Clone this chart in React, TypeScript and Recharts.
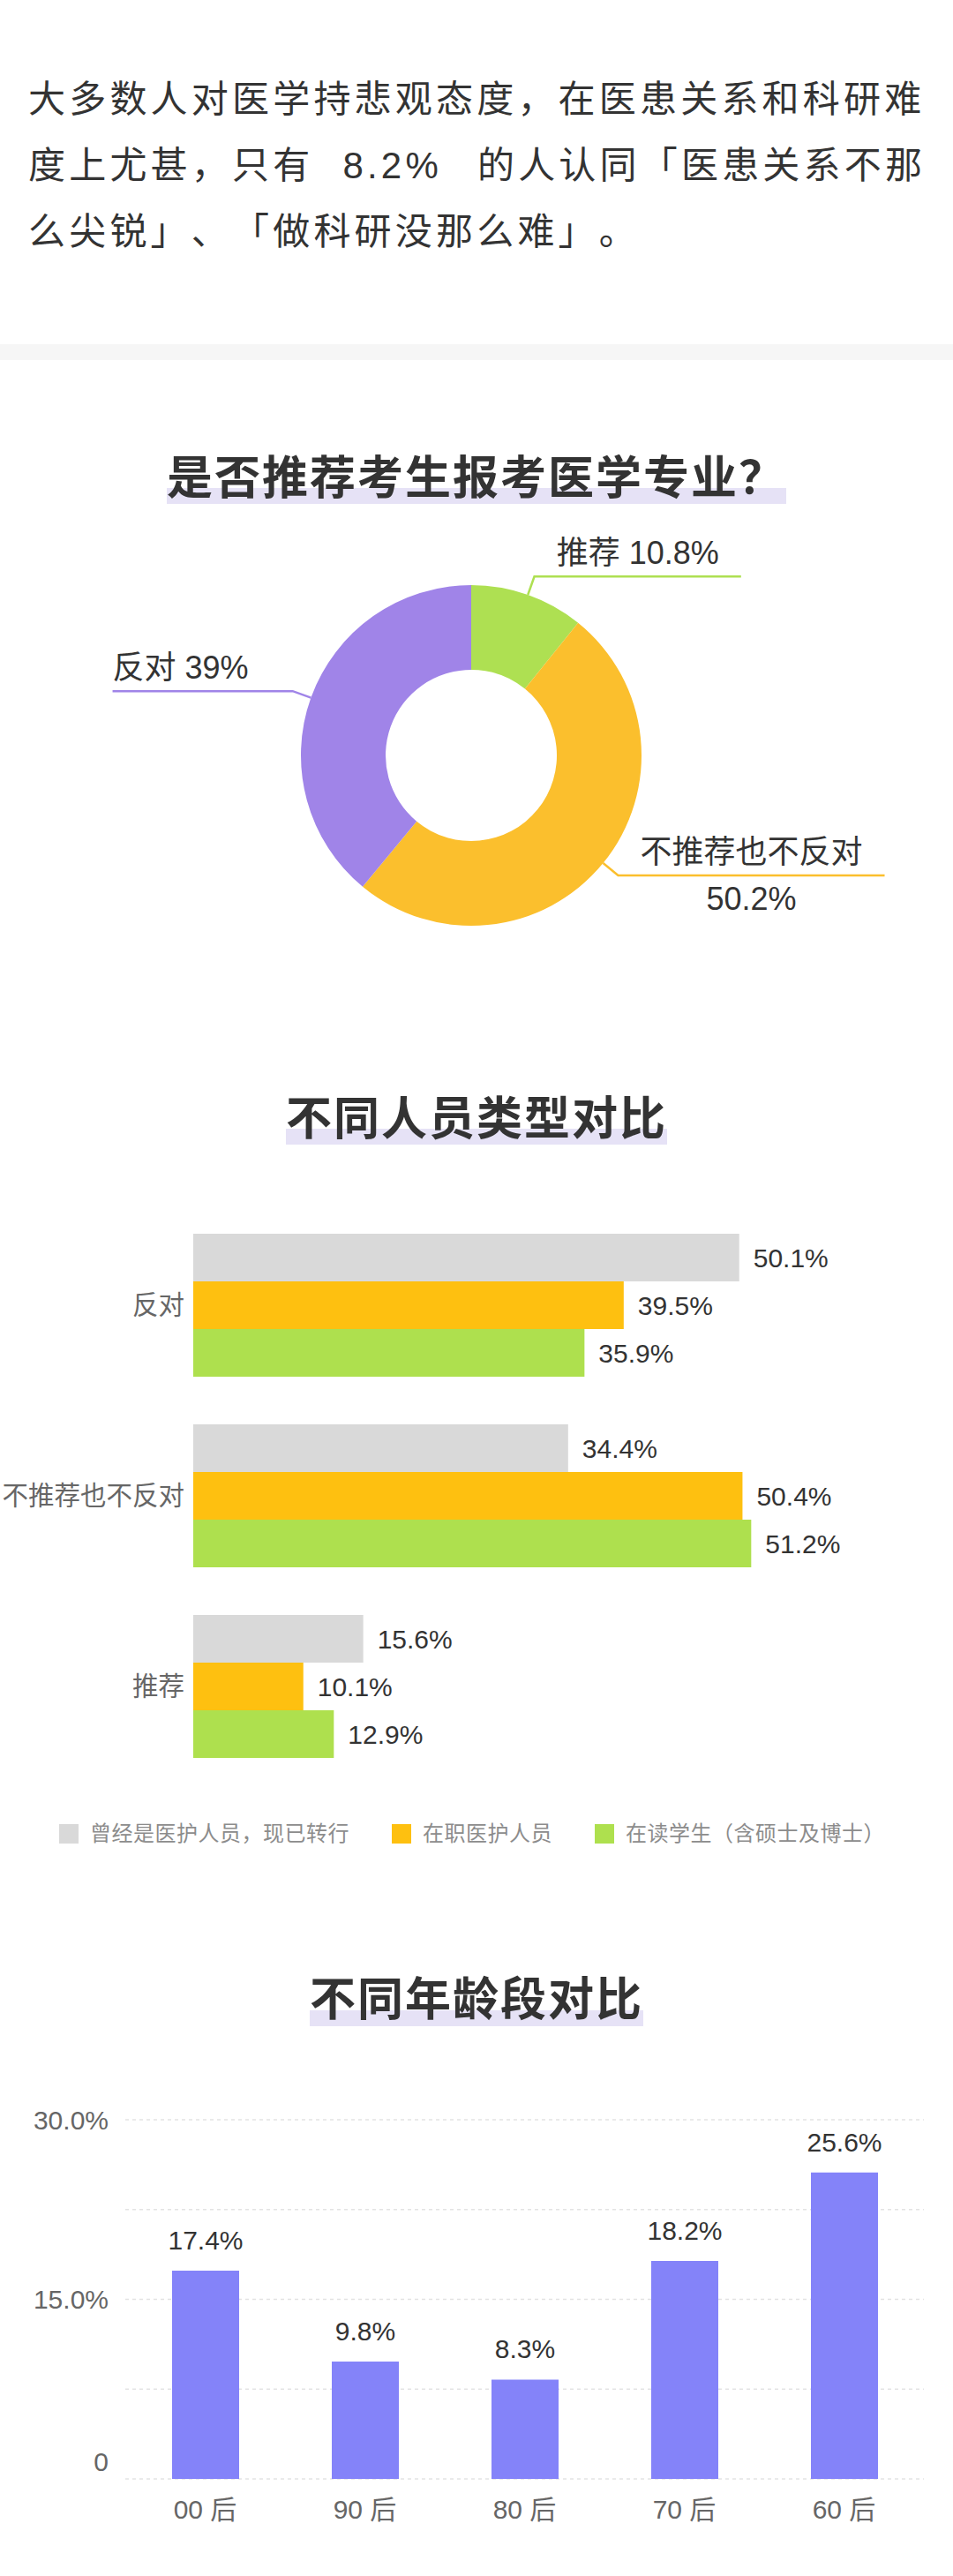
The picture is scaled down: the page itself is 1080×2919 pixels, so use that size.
import React from 'react'
import {
    PieChart, Pie, Cell,
    BarChart, Bar, XAxis, YAxis, CartesianGrid, LabelList,
} from 'recharts'

// --- data -------------------------------------------------------------
const pieNames  = ['推荐', '不推荐也不反对', '反对']
const pieValues = [10.8, 50.2, 39]

const roleCategories = ['反对', '不推荐也不反对', '推荐']
const roleSeries     = ['曾经是医护人员，现已转行', '在职医护人员', '在读学生（含硕士及博士）']
const formerStaff    = [50.1, 34.4, 15.6]
const currentStaff   = [39.5, 50.4, 10.1]
const students       = [35.9, 51.2, 12.9]

const ageGroups = ['00 后', '90 后', '80 后', '70 后', '60 后']
const ageValues = [17.4, 9.8, 8.3, 18.2, 25.6]
const ageTicks  = [0, 7.5, 15, 22.5, 30]

// --- styles -----------------------------------------------------------
const PIE_COLORS  = ['#AEE052', '#FBBF2D', '#A084E8']
const ROLE_COLORS = ['#D9D9D9', '#FEC010', '#AEE04E']
const AGE_COLOR   = '#8483F9'
const FONT        = '"Liberation Sans", "Noto Sans CJK SC", sans-serif'
const CJK_FONT    = '"Noto Sans CJK SC", sans-serif'
const TEXT        = '#333333'
const AXIS_TEXT   = '#666666'
const RADIAN      = Math.PI / 180

const pieData  = pieNames.map((name, i) => ({ name, value: pieValues[i] }))
const roleData = roleCategories.map((name, i) => ({
    name,
    former:  formerStaff[i],
    current: currentStaff[i],
    student: students[i],
}))
const ageData = ageGroups.map((name, i) => ({ name, value: ageValues[i] }))

// rough text width, good enough to size the label leader lines
function textWidth(s: string, size: number) {
    let w = 0
    for (const ch of s) {
        const c = ch.charCodeAt(0)
        if (c > 0x2e80) w += 1
        else if (ch === '%') w += 0.89
        else if (ch === '.' || ch === ' ') w += 0.28
        else w += 0.556
    }
    return w * size
}

function renderPieLabel(props: any) {
    const { cx, cy, midAngle, outerRadius, index } = props
    const name  = pieNames[index]
    const value = pieValues[index]
    const color = PIE_COLORS[index]
    const cos = Math.cos(-midAngle * RADIAN)
    const sin = Math.sin(-midAngle * RADIAN)
    const x0 = cx + outerRadius * cos
    const y0 = cy + outerRadius * sin
    const x1 = cx + (outerRadius + 22) * cos
    const y1 = cy + (outerRadius + 22) * sin
    const right   = cos >= 0
    const twoLine = name.length > 4
    const main    = twoLine ? name : `${name} ${value}%`
    const len     = textWidth(main, 36) + 50
    const x2      = right ? x1 + len : x1 - len
    const tx      = right ? (x1 + x2) / 2 : x2
    const anchor  = right ? 'middle' : 'start'

    return (
        <g>
            <polyline
                points={`${x0},${y0} ${x1},${y1} ${x2},${y1}`}
                fill="none" stroke={color} strokeWidth={2.5}
            />
            <text x={tx} y={y1 - 14} textAnchor={anchor} fontSize={36} fill={TEXT}>{main}</text>
            {twoLine && (
                <text x={tx} y={y1 + 39} textAnchor={anchor} fontSize={36} fill={TEXT}>{value}%</text>
            )}
        </g>
    )
}

function AgeTick({ x, y, payload }: any) {
    const v = payload.value
    const label = v === 0 ? '0' : v % 15 === 0 ? `${v.toFixed(1)}%` : ''
    return (
        <text x={x} y={v === 0 ? y - 20 : y} dy="0.355em" textAnchor="end" fontSize={30} fill={AXIS_TEXT}>
            {label}
        </text>
    )
}

function Title({ text, top }: { text: string; top: number }) {
    return (
        <div style={{ position: 'absolute', top, left: 0, width: 1080, textAlign: 'center' }}>
            <span style={{
                position: 'relative', display: 'inline-block',
                fontFamily: CJK_FONT, fontWeight: 700, fontSize: 52,
                lineHeight: '52px', letterSpacing: 2, color: TEXT,
            }}>
                <span style={{
                    position: 'absolute', left: 0, right: 0, top: 41.5, height: 18,
                    background: '#E6E2F6',
                }} />
                <span style={{ position: 'relative' }}>{text}</span>
            </span>
        </div>
    )
}

export default function App() {
    const para = {
        position: 'absolute' as const, left: 32, fontFamily: FONT,
        fontSize: 42, lineHeight: '75px', letterSpacing: 4.2,
        color: TEXT, whiteSpace: 'nowrap' as const,
    }

    return (
        <div style={{ position: 'relative', width: 1080, height: 2919, background: '#fff', overflow: 'hidden' }}>
            <style>{'body{margin:0} *{text-spacing-trim:space-all}'}</style>

            {/* intro paragraph */}
            <div style={{ ...para, top: 75 }}>大多数人对医学持悲观态度，在医患关系和科研难</div>
            <div style={{ ...para, top: 150 }}>
                度上尤甚，只有<span style={{ marginLeft: 33 }}>8.2%</span>
                <span style={{ marginLeft: 40 }}>的人认同「医患关系不那</span>
            </div>
            <div style={{ ...para, top: 225 }}>么尖锐」、「做科研没那么难」。</div>

            <div style={{ position: 'absolute', top: 390, left: 0, width: 1080, height: 18, background: '#F6F6F6' }} />

            {/* donut */}
            <Title text="是否推荐考生报考医学专业？" top={511.5} />
            <div style={{ position: 'absolute', top: 600, left: 0, fontFamily: FONT }}>
                <PieChart width={1080} height={520}>
                    <Pie
                        data={pieData} dataKey="value" nameKey="name"
                        cx={529} cy={251} innerRadius={97} outerRadius={193}
                        startAngle={90} endAngle={-270}
                        stroke="none" label={renderPieLabel} labelLine={false}
                        isAnimationActive={false}
                    >
                        {pieData.map((_, i) => <Cell key={i} fill={PIE_COLORS[i]} />)}
                    </Pie>
                </PieChart>
            </div>

            {/* role comparison */}
            <Title text="不同人员类型对比" top={1237.5} />
            <div style={{ position: 'absolute', top: 1340, left: 0, fontFamily: FONT }}>
                <BarChart
                    width={1080} height={700} data={roleData} layout="vertical"
                    margin={{ top: 31, right: 120, bottom: 21, left: 0 }}
                    barGap={0} barSize={54}
                >
                    <XAxis type="number" domain={[0, 60]} hide />
                    <YAxis
                        type="category" dataKey="name" width={219}
                        axisLine={false} tickLine={false} tickMargin={4}
                        tick={{ fontSize: 29.5, fill: AXIS_TEXT }}
                    />
                    {(['former', 'current', 'student'] as const).map((key, i) => (
                        <Bar key={key} dataKey={key} name={roleSeries[i]} fill={ROLE_COLORS[i]} isAnimationActive={false}>
                            <LabelList
                                dataKey={key} position="right" offset={16}
                                fontSize={30} fill={TEXT}
                                formatter={(v: number) => `${v}%`}
                            />
                        </Bar>
                    ))}
                </BarChart>
            </div>

            {/* legend */}
            <div style={{
                position: 'absolute', top: 2067, left: 67, height: 22,
                display: 'flex', alignItems: 'center', fontFamily: FONT,
            }}>
                {roleSeries.map((s, i) => (
                    <div key={s} style={{ display: 'flex', alignItems: 'center', marginLeft: i ? 48 : 0 }}>
                        <span style={{ width: 22, height: 22, background: ROLE_COLORS[i], display: 'inline-block' }} />
                        <span style={{ marginLeft: 13, fontSize: 24, letterSpacing: 0.5, color: '#8C8C8C', lineHeight: '22px' }}>
                            {s}
                        </span>
                    </div>
                ))}
            </div>

            {/* age comparison */}
            <Title text="不同年龄段对比" top={2236} />
            <div style={{ position: 'absolute', top: 2360, left: 0, fontFamily: FONT }}>
                <BarChart
                    width={1080} height={520} data={ageData}
                    margin={{ top: 42, right: 33, bottom: 11, left: 0 }}
                    barSize={76}
                >
                    <CartesianGrid vertical={false} stroke="#E3E3E3" strokeDasharray="4 4" strokeWidth={1.5} />
                    <XAxis
                        dataKey="name" axisLine={false} tickLine={false} tickMargin={18}
                        tick={{ fontSize: 30, fill: AXIS_TEXT }} height={60}
                    />
                    <YAxis
                        domain={[0, 30]} ticks={ageTicks} width={142}
                        axisLine={false} tickLine={false} tickMargin={13}
                        tick={<AgeTick />}
                    />
                    <Bar dataKey="value" fill={AGE_COLOR} isAnimationActive={false}>
                        <LabelList
                            dataKey="value" position="top" offset={24}
                            fontSize={30} fill={TEXT}
                            formatter={(v: number) => `${v}%`}
                        />
                    </Bar>
                </BarChart>
            </div>
        </div>
    )
}
